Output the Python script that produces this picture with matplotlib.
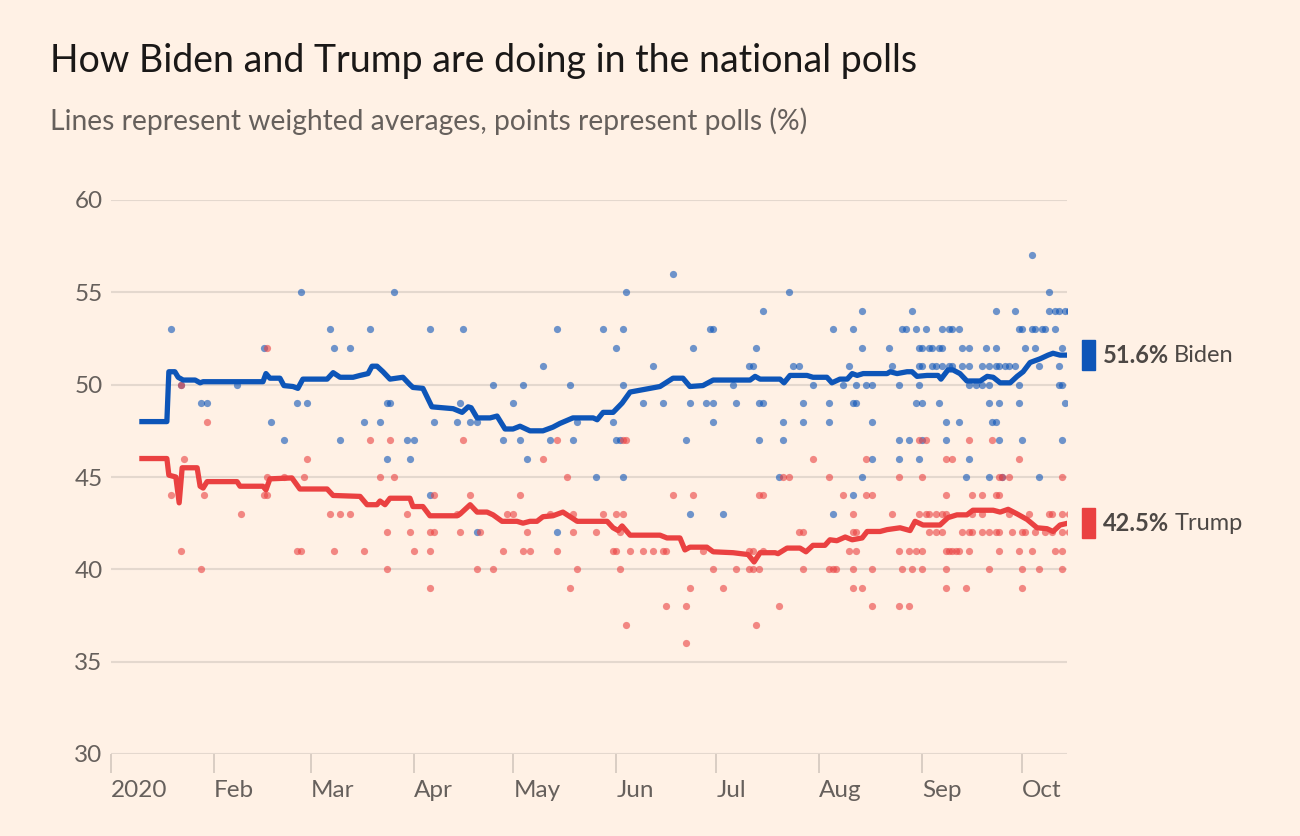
import matplotlib
matplotlib.use('Agg')
import matplotlib.pyplot as plt
import matplotlib.dates as mdates
import matplotlib.transforms as mtransforms
from matplotlib.patches import Rectangle
import pandas as pd

plt.rcParams["font.family"] = ["Lato", "DejaVu Sans"]

START = pd.Timestamp("2020-01-01")

# weighted averages: day offset from 1 Jan 2020, value (%)
biden_avg_days = [9.3, 16.8, 17.4, 19.2, 20.2, 21.7, 25.3, 26.8, 27.7, 45.7, 46.6, 47.8, 50.8, 52.0,
                  54.7, 56.2, 57.7, 65.0, 66.8, 68.9, 72.8, 74.9, 77.3, 78.5, 80.0, 81.8, 83.9, 87.8,
                  89.9, 90.8, 93.8, 96.5, 102.9, 105.6, 107.4, 108.3, 110.1, 114.0, 116.1, 118.5,
                  120.9, 123.0, 124.8, 126.0, 129.9, 132.9, 135.0, 138.9, 145.0, 146.2, 148.0, 151.0,
                  153.7, 156.1, 159.1, 165.1, 169.0, 172.0, 174.1, 178.0, 181.1, 192.2, 193.7, 195.2,
                  201.2, 202.4, 204.2, 209.3, 211.1, 215.3, 216.8, 219.2, 221.4, 222.9, 224.4, 226.2,
                  233.4, 234.3, 236.4, 239.4, 240.9, 242.4, 245.4, 248.7, 249.6, 251.7, 253.2, 255.3,
                  257.4, 261.4, 263.5, 265.3, 267.4, 270.4, 272.5, 274.3, 276.4, 279.4, 281.8, 283.3,
                  285.4, 287.8]
biden_avg = [48.0, 48.0, 50.7, 50.7, 50.4, 50.25, 50.25, 50.1, 50.16, 50.16, 50.6, 50.35, 50.35, 49.95,
             49.9, 49.8, 50.3, 50.3, 50.65, 50.4, 50.4, 50.5, 50.6, 51.0, 51.0, 50.7, 50.3, 50.4,
             50.0, 49.85, 49.8, 48.8, 48.7, 48.5, 48.8, 48.75, 48.2, 48.2, 48.3, 47.6,
             47.6, 47.75, 47.6, 47.5, 47.5, 47.7, 47.9, 48.2, 48.2, 48.1, 48.5, 48.5,
             49.0, 49.6, 49.7, 49.9, 50.35, 50.35, 49.9, 49.95, 50.25, 50.25, 50.45, 50.3,
             50.3, 50.1, 50.5, 50.5, 50.4, 50.4, 50.1, 50.3, 50.3, 50.6, 50.5, 50.6,
             50.6, 50.7, 50.6, 50.7, 50.7, 50.45, 50.5, 50.5, 50.3, 50.8, 50.8, 50.6,
             50.2, 50.2, 50.45, 50.4, 50.1, 50.1, 50.45, 50.7, 51.2, 51.4, 51.6, 51.7,
             51.6, 51.6]

trump_avg_days = [9.3, 16.8, 17.4, 19.5, 20.5, 21.4, 25.9, 26.8, 27.7, 28.9, 37.9, 38.8, 45.7, 46.6,
                  47.8, 54.4, 56.8, 65.0, 66.8, 74.9, 77.0, 80.0, 80.9, 82.4, 83.9, 89.9, 90.8, 93.8,
                  95.9, 104.1, 105.0, 108.0, 110.1, 113.1, 114.9, 117.6, 122.1, 123.9, 126.0, 128.1,
                  129.9, 132.9, 135.9, 140.2, 149.2, 151.0, 152.5, 153.7, 156.1, 165.1, 167.2, 171.1,
                  172.6, 174.1, 179.2, 181.1, 187.1, 191.6, 193.4, 195.2, 199.7, 200.6, 203.3, 207.2,
                  209.0, 211.1, 214.7, 216.2, 218.3, 220.8, 222.9, 225.9, 227.4, 231.3, 233.4, 237.3,
                  240.3, 241.8, 244.2, 249.3, 251.7, 254.4, 257.4, 259.2, 265.3, 267.4, 269.8, 272.5,
                  275.5, 278.5, 281.5, 283.3, 285.4, 287.8]
trump_avg = [46.0, 46.0, 45.1, 45.0, 43.6, 45.5, 45.5, 44.5, 44.4, 44.75, 44.75, 44.5, 44.5, 44.3,
             44.9, 44.95, 44.35, 44.35, 44.0, 43.95, 43.5, 43.5, 43.7, 43.5, 43.85, 43.85, 43.4, 43.4,
             42.9, 42.9, 43.0, 43.5, 43.1, 43.1, 42.95, 42.6, 42.6, 42.5, 42.6, 42.6,
             42.85, 42.9, 43.1, 42.6, 42.6, 42.25, 42.1, 42.35, 41.85, 41.85, 41.7, 41.7,
             41.05, 41.2, 41.2, 40.95, 40.9, 40.8, 40.4, 40.9, 40.9, 40.85, 41.15, 41.15,
             40.95, 41.3, 41.3, 41.6, 41.55, 41.75, 41.6, 41.7, 42.05, 42.05, 42.15, 42.25,
             42.1, 42.6, 42.4, 42.4, 42.8, 42.95, 42.95, 43.2, 43.2, 43.1, 43.25, 43.0,
             42.7, 42.25, 42.2, 42.05, 42.4, 42.5]

# individual polls: (day offset, value %)
biden_polls = [
    (18, 53), (21, 50), (27, 49), (29, 49), (38, 50), (46, 52), (48, 48), (52, 47), (56, 49), (57, 55),
    (59, 49), (66, 53), (67, 52), (69, 47), (72, 52), (76, 48), (78, 53), (81, 48), (83, 49), (84, 49),
    (83, 46), (85, 55), (89, 47), (90, 46), (91, 47), (96, 53), (96, 44), (97, 48), (104, 48), (105, 49),
    (106, 53), (108, 48), (110, 48), (110, 42), (115, 50), (118, 47), (121, 49), (123, 47), (124, 50),
    (125, 46), (130, 51), (132, 47), (134, 42), (134, 53), (138, 50), (139, 47), (140, 48), (146, 45),
    (148, 53), (151, 48), (152, 52), (152, 47), (153, 47), (154, 53), (154, 50), (154, 45), (155, 55),
    (160, 49), (163, 51), (166, 49), (169, 56), (173, 47), (174, 49), (174, 43), (175, 52), (179, 49),
    (180, 53), (181, 49), (181, 48), (181, 53), (184, 43), (187, 50), (188, 49), (192, 51), (193, 51),
    (194, 52), (195, 49), (195, 47), (196, 49), (196, 54), (201, 45), (202, 48), (202, 47), (204, 55),
    (205, 51), (207, 51), (208, 49), (208, 48), (211, 50), (216, 49), (216, 48), (217, 43), (217, 53),
    (220, 50), (222, 51), (223, 53), (223, 49), (223, 44), (224, 49), (224, 50), (226, 52), (226, 45),
    (226, 54), (227, 50), (229, 50), (229, 48), (229, 46), (234, 52), (235, 51), (237, 50), (237, 47),
    (237, 46), (238, 53), (239, 53), (240, 47), (241, 54), (242, 53), (242, 49), (243, 52), (243, 51),
    (243, 50), (243, 46), (244, 52), (244, 49), (244, 47), (244, 51), (245, 53), (246, 52), (247, 52),
    (247, 51), (248, 51), (249, 49), (249, 52), (250, 51), (250, 52), (250, 53), (251, 48), (251, 47),
    (252, 53), (252, 51), (253, 51), (253, 53), (255, 53), (255, 48), (256, 52), (256, 51), (257, 45),
    (258, 46), (258, 52), (258, 51), (258, 50), (260, 50), (262, 50), (262, 51), (263, 52), (264, 45),
    (264, 51), (264, 50), (264, 49), (265, 48), (266, 48), (266, 52), (266, 51), (266, 54), (267, 49),
    (267, 47), (267, 51), (268, 45), (269, 51), (270, 51), (272, 51), (272, 54), (273, 50), (273, 53),
    (273, 49), (274, 47), (274, 53), (275, 52), (277, 57), (277, 53), (278, 53), (278, 52), (279, 51),
    (279, 45), (280, 53), (281, 53), (282, 55), (282, 54), (284, 54), (284, 53), (285, 54), (285, 51),
    (285, 50), (286, 52), (286, 47), (286, 50), (287, 54), (287, 49), (288, 54)]

trump_polls = [
    (18, 44), (21, 41), (21, 50), (22, 46), (27, 40), (28, 44), (29, 48), (39, 43), (46, 44), (47, 44),
    (47, 45), (47, 52), (52, 45), (56, 41), (57, 41), (58, 45), (59, 46), (66, 43), (67, 41), (69, 43),
    (72, 43), (76, 41), (78, 47), (81, 45), (83, 42), (83, 40), (84, 47), (85, 45), (89, 43), (90, 42),
    (91, 41), (96, 42), (96, 41), (96, 39), (97, 44), (97, 42), (104, 43), (105, 42), (106, 47),
    (108, 44), (110, 40), (111, 42), (115, 40), (118, 41), (119, 43), (121, 43), (123, 44), (124, 41),
    (125, 42), (126, 41), (130, 46), (132, 43), (134, 41), (134, 47), (137, 45), (138, 39), (139, 42),
    (139, 43), (140, 40), (146, 42), (148, 43), (151, 41), (152, 43), (152, 41), (153, 42), (153, 40),
    (154, 47), (154, 43), (155, 37), (155, 47), (156, 41), (160, 41), (163, 41), (166, 41), (167, 41),
    (167, 38), (169, 44), (173, 38), (173, 36), (174, 39), (175, 44), (178, 41), (181, 40), (184, 39),
    (188, 40), (192, 41), (192, 40), (193, 41), (193, 40), (194, 37), (195, 40), (195, 44), (196, 44),
    (196, 41), (201, 38), (202, 45), (204, 45), (207, 42), (208, 42), (208, 40), (211, 46), (216, 45),
    (216, 40), (217, 40), (218, 40), (220, 44), (222, 41), (223, 43), (223, 42), (223, 40), (223, 39),
    (224, 42), (224, 41), (226, 39), (227, 46), (227, 44), (229, 44), (229, 40), (229, 38), (235, 43),
    (237, 45), (237, 41), (237, 38), (238, 40), (240, 41), (240, 38), (241, 40), (242, 41), (243, 47),
    (243, 43), (244, 45), (244, 41), (244, 40), (245, 47), (245, 43), (246, 43), (246, 42), (248, 43),
    (248, 42), (250, 43), (250, 42), (251, 46), (251, 44), (251, 43), (251, 41), (251, 40), (251, 39),
    (252, 41), (253, 46), (253, 41), (254, 41), (255, 41), (256, 42), (257, 39), (258, 47), (258, 42),
    (258, 41), (259, 44), (259, 43), (259, 42), (262, 44), (262, 43), (262, 42), (264, 42), (264, 40),
    (265, 47), (266, 44), (266, 42), (267, 45), (267, 44), (267, 42), (267, 41), (268, 45), (270, 45),
    (270, 43), (271, 42), (273, 41), (273, 46), (274, 42), (274, 40), (274, 39), (275, 42), (276, 43),
    (277, 41), (278, 42), (279, 40), (281, 42), (282, 43), (283, 43), (283, 42), (284, 41), (286, 45),
    (286, 43), (286, 42), (286, 41), (286, 40), (288, 43), (288, 42)]

biden_last = "51.6%"
trump_last = "42.5%"


def to_dates(days):
    return START + pd.to_timedelta(list(days), unit="D")


BG = "#fff1e5"
BLUE = "#0d55b8"
RED = "#ea4141"
GRID = "#e4d8ce"
TEXT = "#66605c"

fig = plt.figure(figsize=(13, 8.36), dpi=100, facecolor=BG)
ax = fig.add_axes([111 / 1300, 1 - 754 / 836, (1067 - 111) / 1300, (754 - 200) / 836])
ax.set_facecolor(BG)

for polls, col in [(biden_polls, BLUE), (trump_polls, RED)]:
    d, v = zip(*polls)
    ax.scatter(to_dates(d), v, s=27, color=col, alpha=0.6, linewidths=0, zorder=3)

ax.plot(to_dates(biden_avg_days), biden_avg, color=BLUE, lw=3.8, zorder=4,
        solid_joinstyle='round')
ax.plot(to_dates(trump_avg_days), trump_avg, color=RED, lw=3.8, zorder=4,
        solid_joinstyle='round')

ax.set_xlim(START, START + pd.Timedelta(days=287.5))
ax.set_ylim(30, 60)
ax.set_yticks([30, 35, 40, 45, 50, 55, 60])
ax.grid(axis='y', color=GRID, lw=1.5, zorder=0)
ax.grid(axis='x', visible=False)
for s in ax.spines.values():
    s.set_visible(False)

ax.xaxis.set_major_locator(mdates.MonthLocator())
ax.xaxis.set_major_formatter(mdates.DateFormatter('%b'))
fig.canvas.draw()
labels = [t.get_text() for t in ax.get_xticklabels()]
if labels:
    labels[0] = "2020"
ax.set_xticks(ax.get_xticks())
ax.set_xticklabels(labels)
for t in ax.get_xticklabels():
    t.set_horizontalalignment('left')

ax.tick_params(axis='x', length=14, width=1.2, color="#d3c8be", pad=5,
               labelsize=17.5, labelcolor=TEXT)
ax.tick_params(axis='y', length=0, pad=6, labelsize=17.5, labelcolor=TEXT)

# end-of-line labels
trans = mtransforms.blended_transform_factory(ax.transAxes, ax.transData)
renderer = fig.canvas.get_renderer()
for val, txt, name, col in [(biden_avg[-1], biden_last, "Biden", BLUE),
                            (trump_avg[-1], trump_last, "Trump", RED)]:
    ax.add_patch(Rectangle((1.0157, val - 0.8), 0.0136, 1.6, transform=trans,
                           color=col, clip_on=False))
    t1 = ax.text(1.0377, val, txt, transform=trans, fontsize=17, fontweight='bold',
                 color="#4d4845", va='center', ha='left')
    bb = t1.get_window_extent(renderer=renderer)
    x2 = ax.transAxes.inverted().transform((bb.x1 + 5, 0))[0]
    ax.text(x2, val, name, transform=trans, fontsize=17, color="#4d4845",
            va='center', ha='left')

fig.text(50 / 1300, 1 - 61 / 836, "How Biden and Trump are doing in the national polls",
         fontsize=27, color="#1a1817", va='center', ha='left')
fig.text(50 / 1300, 1 - 121 / 836, "Lines represent weighted averages, points represent polls (%)",
         fontsize=20.3, color=TEXT, va='center', ha='left')

fig.savefig("out.png", dpi=100, facecolor=BG)
